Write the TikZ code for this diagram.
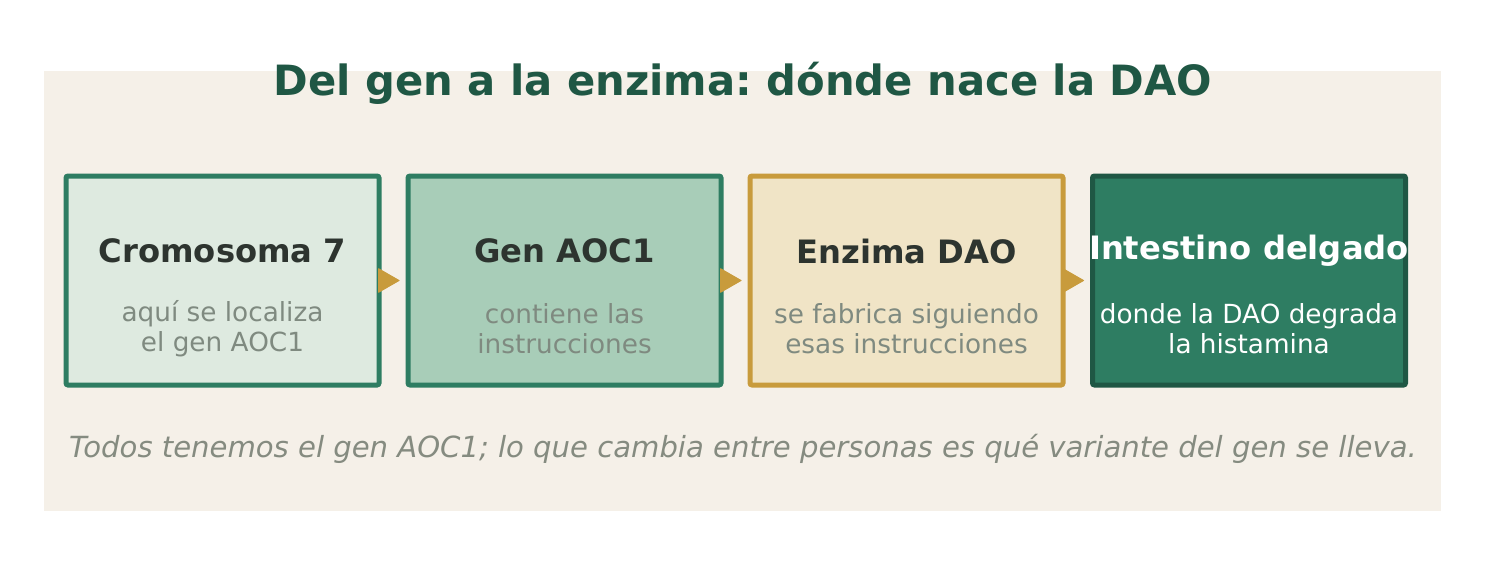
\documentclass[tikz,border=0pt]{standalone}
\usepackage{fontspec}
\setmainfont{DejaVu Sans}
\frenchspacing
\usetikzlibrary{arrows.meta}
\definecolor{panel}{HTML}{F5F0E8}
\definecolor{titlegreen}{HTML}{1F5744}
\definecolor{midgreen}{HTML}{2E7D62}
\definecolor{paleg}{HTML}{DEEAE0}
\definecolor{lightg}{HTML}{A8CDB8}
\definecolor{cream}{HTML}{F0E4C6}
\definecolor{gold}{HTML}{C89B3C}
\definecolor{headtxt}{HTML}{2D342F}
\definecolor{subtxt}{HTML}{7F8A80}
\definecolor{foottxt}{HTML}{858B80}
\tikzset{
  card/.style={rectangle, rounded corners=2pt, line width=5pt, minimum width=313pt, minimum height=209pt, inner sep=0pt},
  headtext/.style={font=\fontsize{32.2}{38}\selectfont\bfseries, text=headtxt},
  subtext/.style={font=\fontsize{26.3}{30}\selectfont, text=subtxt, align=center},
  flow/.style={draw=gold, line width=1pt, -{Triangle[width=25pt,length=22pt,round]}, shorten >=6pt, gold}
}
\begin{document}
\begin{tikzpicture}[x=1pt,y=-1pt]
\useasboundingbox (0,0) rectangle (1486,583);
\fill[panel] (44,71) rectangle (1441,511);
\node[font=\fontsize{41.7}{48}\selectfont\bfseries, text=titlegreen] (title) at (743,83) {Del gen a la enzima: dónde nace la DAO};
\node[card, draw=midgreen, fill=paleg] (b1) at (222.5,280.5) {};
\node[card, draw=midgreen, fill=lightg] (b2) at (564.5,280.5) {};
\node[card, draw=gold, fill=cream] (b3) at (906.5,280.5) {};
\node[card, draw=titlegreen, fill=midgreen] (b4) at (1249,280.5) {};
\draw[flow] (b1.east) -- (b2.west);
\draw[flow] (b2.east) -- (b3.west);
\draw[flow] (b3.east) -- (b4.west);
\node[headtext] (h1) at (222.5,251) {Cromosoma 7};
\node[headtext] (h2) at (564.5,251) {Gen AOC1};
\node[headtext] (h3) at (906.5,251) {Enzima DAO};
\node[headtext, text=white] (h4) at (1249,251) {Intestino delgado};
\node[subtext] (s1) at (222.5,329) {aquí se localiza\\el gen AOC1};
\node[subtext] (s2) at (564.5,329) {contiene las\\instrucciones};
\node[subtext] (s3) at (906.5,329) {se fabrica siguiendo\\esas instrucciones};
\node[subtext, text=white] (s4) at (1249,329) {donde la DAO degrada\\la histamina};
\node[font=\fontsize{29.1}{34}\selectfont\itshape, text=foottxt] (foot) at (743,449) {Todos tenemos el gen AOC1; lo que cambia entre personas es qué variante del gen se lleva.};
\end{tikzpicture}
\end{document}
